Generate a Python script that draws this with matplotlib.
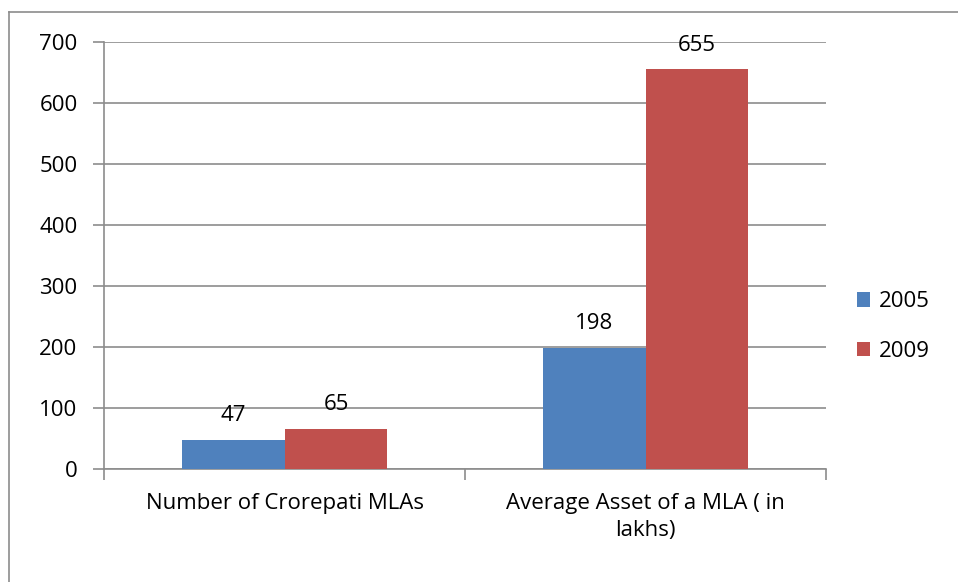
import matplotlib.pyplot as plt
from matplotlib.lines import Line2D

plt.rcParams['font.family'] = ['Open Sans', 'DejaVu Sans']

categories = ['Number of Crorepati MLAs', 'Average Asset of a MLA ( in\nlakhs)']
years = ['2005', '2009']
vals_2005 = [47, 198]
vals_2009 = [65, 655]
colors = ['#4F81BD', '#C0504D']
fs = 16

fig = plt.figure(figsize=(9.58, 5.82), dpi=100)
ax = fig.add_axes([104 / 958, 1 - 469 / 582, (826 - 104) / 958, (469 - 42) / 582])

# outer chart border (only top and left visible)
fig.add_artist(Line2D([9 / 958, 9 / 958], [0, 1 - 12 / 582], transform=fig.transFigure, color='#8c8c8c', lw=1.2))
fig.add_artist(Line2D([9 / 958, 1], [1 - 12 / 582, 1 - 12 / 582], transform=fig.transFigure, color='#8c8c8c', lw=1.2))

w = 0.285
x = range(len(categories))
for i, (vals, yr) in enumerate([(vals_2005, years[0]), (vals_2009, years[1])]):
    pos = [c + (i - 0.5) * w for c in x]
    bars = ax.bar(pos, vals, width=w, color=colors[i], label=yr, zorder=3)
    for b, v in zip(bars, vals):
        ax.annotate(str(v), (b.get_x() + b.get_width() / 2, v), xytext=(0, 10),
                    textcoords='offset points', ha='center', va='bottom', fontsize=fs)

ax.set_xlim(-0.5, 1.5)
ax.set_ylim(0, 700)
ax.set_yticks(range(0, 701, 100))
ax.yaxis.grid(True, color='#8c8c8c', lw=1.2, zorder=0)
ax.set_xticks([-0.5, 0.5, 1.5])
ax.set_xticklabels([])
ax.set_xticks([0, 1], minor=True)
ax.set_xticklabels(categories, minor=True, fontsize=fs, linespacing=1.4)
ax.tick_params(axis='x', which='minor', length=0, pad=17)
ax.tick_params(axis='x', which='major', length=8, color='#8c8c8c', width=1.2)
ax.tick_params(axis='y', length=8, color='#8c8c8c', width=1.2, labelsize=fs, pad=11)
for s in ['top', 'right']:
    ax.spines[s].set_visible(False)
for s in ['left', 'bottom']:
    ax.spines[s].set_color('#8c8c8c')
    ax.spines[s].set_linewidth(1.2)

ax.legend(loc='center left', bbox_to_anchor=(1.015, 0.333), frameon=False, fontsize=fs,
          handlelength=0.6, handleheight=0.6, labelspacing=1.3, handletextpad=0.4)

fig.savefig('out.png', dpi=100)
